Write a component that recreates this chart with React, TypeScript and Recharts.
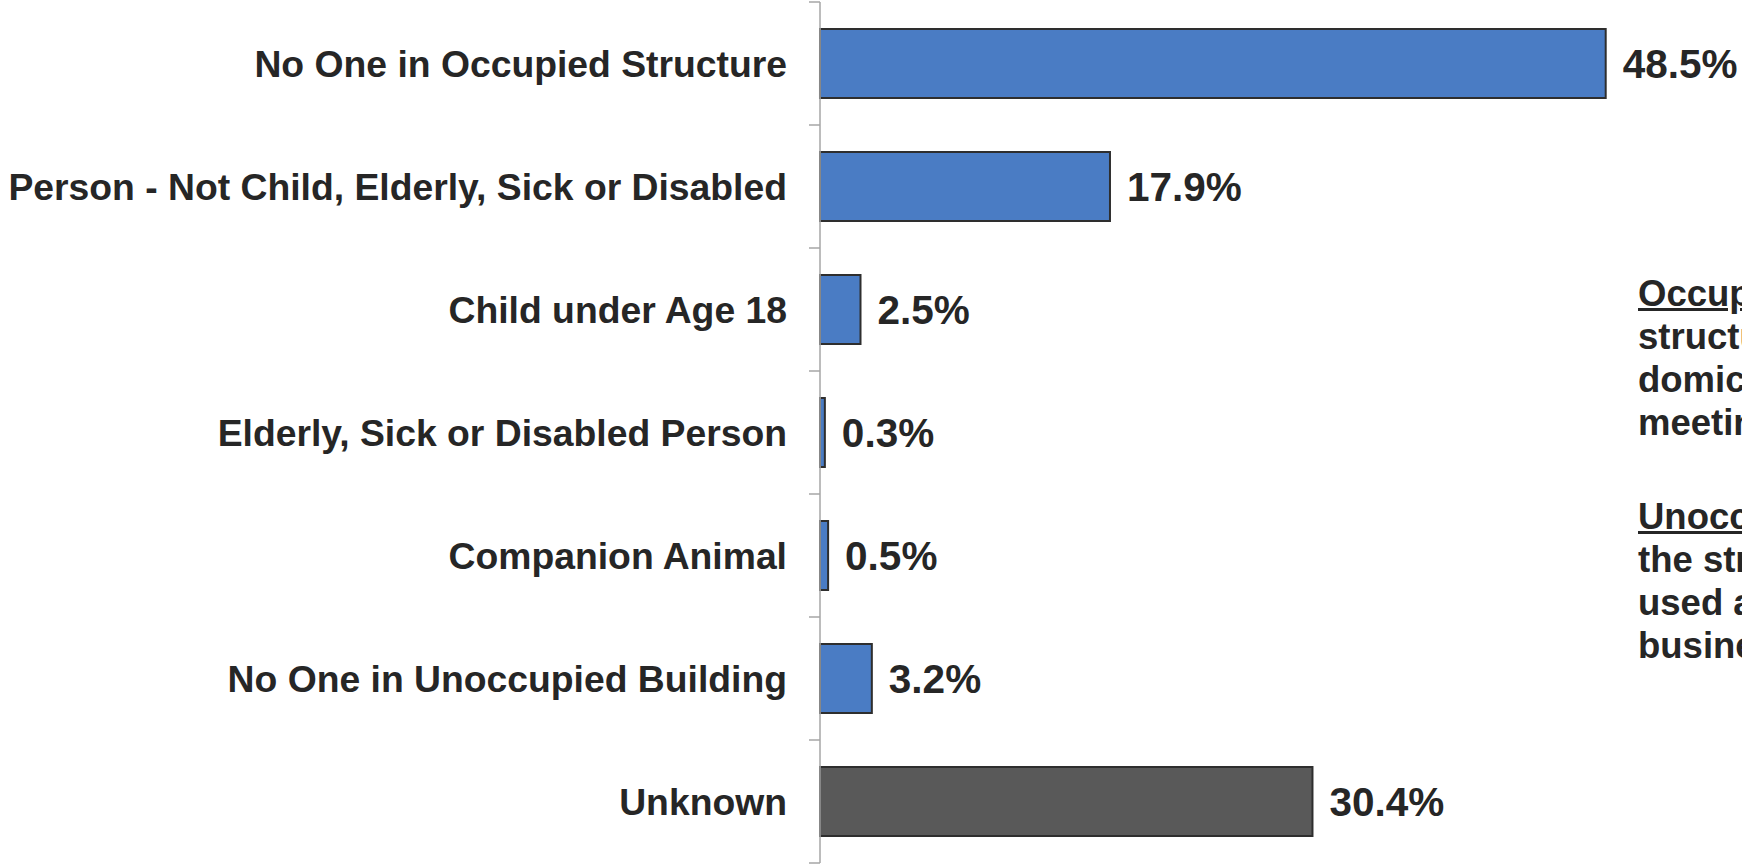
import { Bar, BarChart, Cell, LabelList, XAxis, YAxis } from 'recharts';

const categories = [
  'No One in Occupied Structure',
  'Person - Not Child, Elderly, Sick or Disabled',
  'Child under Age 18',
  'Elderly, Sick or Disabled Person',
  'Companion Animal',
  'No One in Unoccupied Building',
  'Unknown'
];
const shares = [48.5, 17.9, 2.5, 0.3, 0.5, 3.2, 30.4];
const colors = ['#4a7cc4', '#4a7cc4', '#4a7cc4', '#4a7cc4', '#4a7cc4', '#4a7cc4', '#595959'];

const data = categories.map((name, i) => ({ name, value: shares[i], color: colors[i] }));

const W = 1742;
const H = 865;
const AXIS_X = 820;
const TOP = 2;
const BOTTOM = 2;
const BAND = (H - TOP - BOTTOM) / categories.length;
const FONT = 'Liberation Sans';
const INK = '#262626';

function CategoryTick(props: any) {
  const { y, payload, index } = props;
  return (
    <g>
      <text
        x={AXIS_X - 33}
        y={y}
        textAnchor="end"
        dominantBaseline="central"
        style={{ fontFamily: FONT, fontWeight: 700, fontSize: 37.3 }}
        fill={INK}
      >
        {payload.value}
      </text>
      <line x1={AXIS_X - 11} x2={AXIS_X} y1={y - BAND / 2} y2={y - BAND / 2} stroke="#a6a6a6" strokeWidth={1.5} />
      {index === categories.length - 1 && (
        <line x1={AXIS_X - 11} x2={AXIS_X} y1={y + BAND / 2} y2={y + BAND / 2} stroke="#a6a6a6" strokeWidth={1.5} />
      )}
    </g>
  );
}

const noteStyle: React.CSSProperties = {
  position: 'absolute',
  left: 1638,
  fontFamily: FONT,
  fontWeight: 700,
  fontSize: 36.5,
  lineHeight: '43px',
  color: INK,
  whiteSpace: 'nowrap'
};

export default function App() {
  return (
    <div style={{ position: 'absolute', left: 0, top: 0, width: W, height: H, overflow: 'hidden', background: '#fff', fontFamily: FONT }}>
      <BarChart
        width={W}
        height={H}
        data={data}
        layout="vertical"
        margin={{ top: TOP, right: W - AXIS_X - 810, bottom: BOTTOM, left: 0 }}
        barSize={69}
      >
        <XAxis type="number" domain={[0, 50]} hide />
        <YAxis
          type="category"
          dataKey="name"
          width={AXIS_X}
          axisLine={{ stroke: '#a6a6a6', strokeWidth: 1.5 }}
          tickLine={false}
          tick={(p: any) => <CategoryTick {...p} />}
          interval={0}
        />
        <Bar dataKey="value" stroke="#2e2e2e" strokeWidth={2} isAnimationActive={false}>
          {data.map((d) => (
            <Cell key={d.name} fill={d.color} />
          ))}
          <LabelList
            dataKey="value"
            position="right"
            offset={17}
            formatter={(v: any) => `${Number(v).toFixed(1)}%`}
            style={{ fontFamily: FONT, fontWeight: 700, fontSize: 40.5, fill: INK }}
          />
        </Bar>
      </BarChart>
      <div style={{ ...noteStyle, top: 272 }}>
        <div><u>Occupied</u> structure: The</div>
        <div>structure is used as a</div>
        <div>domicile, business or</div>
        <div>meeting place.</div>
      </div>
      <div style={{ ...noteStyle, top: 495 }}>
        <div><u>Unoccupied</u> building:</div>
        <div>the structure is not</div>
        <div>used as a domicile,</div>
        <div>business or meeting place.</div>
      </div>
    </div>
  );
}
